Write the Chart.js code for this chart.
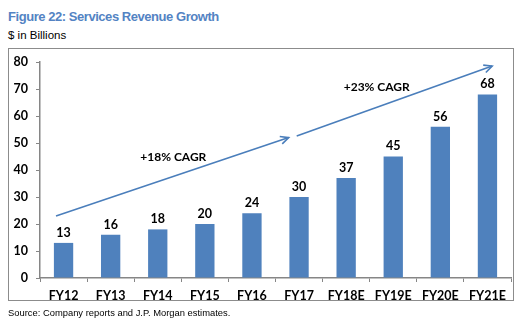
<!DOCTYPE html>
<html><head><meta charset="utf-8">
<script src="https://cdn.jsdelivr.net/npm/chart.js@4/dist/chart.umd.min.js"></script>
<style>
html,body{margin:0;padding:0;background:#fff;width:524px;height:324px;overflow:hidden;}
#wrap{position:relative;width:524px;height:324px;}
canvas{position:absolute;left:0;top:0;}
.t{position:absolute;font-family:"Liberation Sans",Arial,sans-serif;white-space:nowrap;}
#title{left:8px;top:9px;font-size:13px;letter-spacing:-0.45px;font-weight:bold;color:#5383C3;}
#sub{left:8px;top:29px;font-size:11.5px;color:#000;}
#src{left:8px;top:307px;font-size:9.4px;color:#000;}
#box{position:absolute;left:8px;top:48px;width:504px;height:251px;border:1px solid #8c8c8c;}
</style></head>
<body><div id="wrap">
<div class="t" id="title">Figure 22: Services Revenue Growth</div>
<div class="t" id="sub">$ in Billions</div>
<div id="box"></div>
<canvas id="c" width="524" height="324"></canvas>
<div class="t" id="src">Source: Company reports and J.P. Morgan estimates.</div>
</div>
<script>
const categories = ["FY12","FY13","FY14","FY15","FY16","FY17","FY18E","FY19E","FY20E","FY21E"];
const revenue = [13,16,18,20,24,30,37,45,56,68];
const yTicks = [0,10,20,30,40,50,60,70,80];
// arrows in data coordinates: [xStart, yStart, xEnd, yEnd] (x = category index)
const arrow1 = [-0.16, 23.0, 4.78, 52.0];
const arrow2 = [4.95, 52.6, 9.1, 78.5];
// CAGR labels: [text, x(category index), y(value)]
const cagrLabels = [["+18% CAGR", 2.33, 44.9], ["+23% CAGR", 6.65, 70.8]];

const FONT = '"Lato","Liberation Sans",sans-serif';
const BLUE = '#4F81BD';

const overlay = {
  id:'overlay',
  afterDatasetsDraw(chart){
    const ctx = chart.ctx, xs = chart.scales.x, ys = chart.scales.y;
    ctx.save();
    ctx.font = 'bold 12.5px ' + FONT;
    ctx.fillStyle = '#000';
    ctx.textAlign = 'center';
    ctx.textBaseline = 'bottom';
    chart.getDatasetMeta(0).data.forEach((bar,i)=>{
      ctx.fillText(String(revenue[i]), bar.x, bar.y - 4);
    });
    ctx.strokeStyle = '#4A7EBB';
    ctx.lineWidth = 1.6;
    [arrow1, arrow2].forEach(a=>{
      const x1 = xs.getPixelForValue(a[0]), y1 = ys.getPixelForValue(a[1]);
      const x2 = xs.getPixelForValue(a[2]), y2 = ys.getPixelForValue(a[3]);
      ctx.beginPath(); ctx.moveTo(x1,y1); ctx.lineTo(x2,y2); ctx.stroke();
      const ang = Math.atan2(y2-y1, x2-x1), L = 9, w = 0.45;
      ctx.beginPath();
      ctx.moveTo(x2 - L*Math.cos(ang - w), y2 - L*Math.sin(ang - w));
      ctx.lineTo(x2, y2);
      ctx.lineTo(x2 - L*Math.cos(ang + w), y2 - L*Math.sin(ang + w));
      ctx.stroke();
    });
    ctx.font = 'bold 12px ' + FONT;
    ctx.textBaseline = 'middle';
    cagrLabels.forEach(l=>{
      ctx.fillText(l[0], xs.getPixelForValue(l[1]), ys.getPixelForValue(l[2]));
    });
    ctx.restore();
  }
};

new Chart(document.getElementById('c'), {
  type:'bar',
  data:{labels:categories, datasets:[{data:revenue, backgroundColor:BLUE, categoryPercentage:1, barPercentage:0.41}]},
  options:{
    responsive:false, animation:false,
    layout:{padding:{left:0,right:13,top:62,bottom:24}},
    plugins:{legend:{display:false},title:{display:false},tooltip:{enabled:false}},
    scales:{
      x:{
        grid:{display:true,drawOnChartArea:false,tickLength:4,color:'#868686',offset:true},
        border:{color:'#868686',width:1.5},
        ticks:{font:{family:FONT,size:12.5,weight:'bold'},color:'#000',padding:6,maxRotation:0},
        afterFit(s){ s.height = 22; }
      },
      y:{
        min:0,max:80,
        afterBuildTicks(s){ s.ticks = yTicks.map(v=>({value:v})); },
        grid:{display:true,drawOnChartArea:false,tickLength:4,color:'#868686'},
        border:{color:'#868686',width:1.5},
        ticks:{font:{family:FONT,size:12.5,weight:'bold'},color:'#000',padding:8},
        afterFit(s){ s.width = 40; }
      }
    }
  },
  plugins:[overlay]
});
</script>
</body></html>
